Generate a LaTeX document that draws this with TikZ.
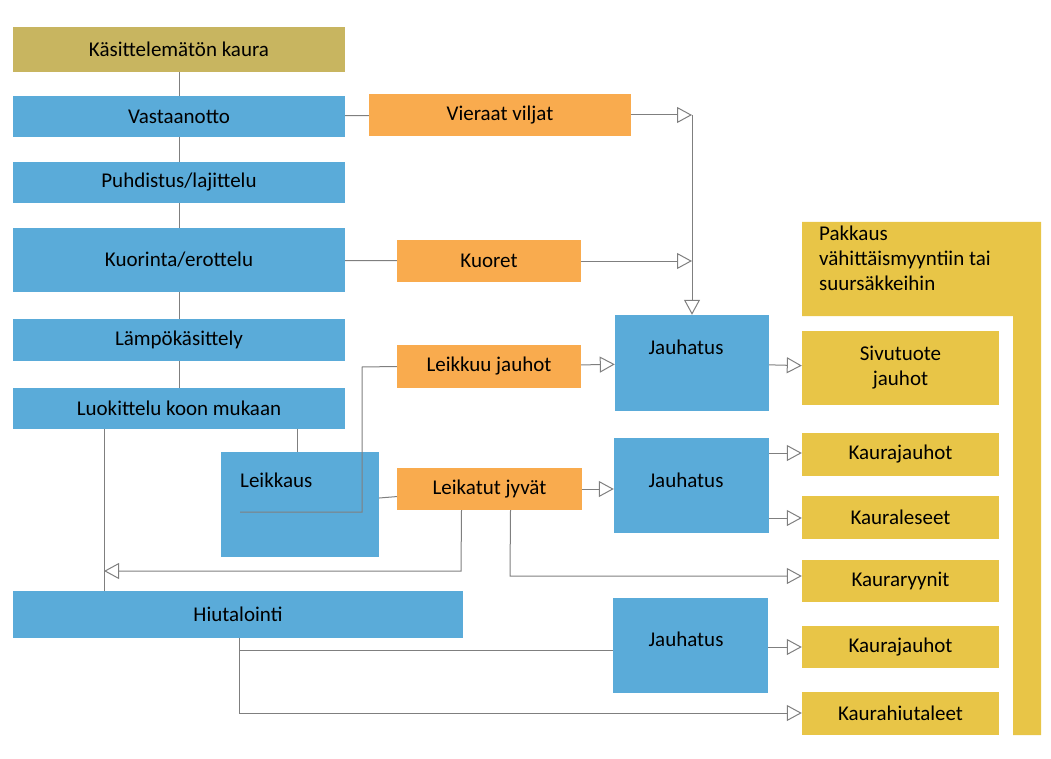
\documentclass[tikz,border=0pt]{standalone}
\usepackage{fontspec}
\setmainfont{Carlito}
\usetikzlibrary{arrows.meta,positioning}
\definecolor{olivebox}{HTML}{C8B560}
\definecolor{bluebox}{HTML}{5AABD9}
\definecolor{orangebox}{HTML}{F9AB4E}
\definecolor{yellowbox}{HTML}{E8C547}
\definecolor{linegray}{HTML}{7F7F7F}

\begin{document}
\begin{tikzpicture}[x=1pt, y=-1pt, >={Triangle[open,length=15pt,width=16pt]}]
  % --- Styles ---
    \tikzset{
      box/.style    = {inner sep=0pt, font=\fontsize{21}{25}\selectfont},
      raw/.style    = {box, fill=olivebox},
      stage/.style  = {box, fill=bluebox},
      waste/.style  = {box, fill=orangebox},
      prod/.style   = {box, fill=yellowbox, align=center},
      txt/.style    = {inner sep=0pt, font=\fontsize{21}{25}\selectfont},
      flow/.style   = {draw=linegray, line width=1pt},
      flowA/.style  = {flow, ->}
    }
    \useasboundingbox (0,0) rectangle (1051,759);

    % --- Main line (left column) ---
    \node[raw, minimum width=332pt, minimum height=45pt] (raw) at (179,49.5) {Käsittelemätön kaura};
    \node[stage, minimum width=332pt, minimum height=41pt] (recv) at (179,116.5) {Vastaanotto};
    \node[stage, minimum width=332pt, minimum height=41pt] (clean) at (179,182.5) {Puhdistus/lajittelu};
    \node[stage, minimum width=332pt, minimum height=64pt] (hull) at (179,260) {Kuorinta/erottelu};
    \node[stage, minimum width=332pt, minimum height=42pt] (heat) at (179,340) {Lämpökäsittely};
    \node[stage, minimum width=332pt, minimum height=41pt] (grade) at (179,408.5) {Luokittelu koon mukaan};
    \node[stage, minimum width=158pt, minimum height=105pt] (cut) at (300,504.5) {};
    \node[txt, anchor=west] (cutT) at (240,480) {Leikkaus};
    \node[stage, minimum width=450pt, minimum height=47pt] (flake) at (238,614.5) {Hiutalointi};

    % --- Side streams ---
    \node[waste, minimum width=262pt, minimum height=42pt] (foreign) at (500,115) {Vieraat viljat};
    \node[waste, minimum width=184pt, minimum height=42pt] (husk) at (489,261) {Kuoret};
    \node[waste, minimum width=184pt, minimum height=43pt] (cutfl) at (489,366.5) {Leikkuu jauhot};
    \node[waste, minimum width=185pt, minimum height=42pt] (cutgr) at (489.5,489) {Leikatut jyvät};

    % --- Milling ---
    \node[stage, minimum width=154pt, minimum height=96pt] (mill1) at (692,363) {};
    \node[txt] at (686,347) {Jauhatus};
    \node[stage, minimum width=155pt, minimum height=95pt] (mill2) at (691.5,485.5) {};
    \node[txt] at (686,480) {Jauhatus};
    \node[stage, minimum width=155pt, minimum height=95pt] (mill3) at (690.5,645.5) {};
    \node[txt] at (686,639) {Jauhatus};

    % --- Packaging ---
    \fill[yellowbox] (802,222) -- (1041,222) -- (1041,735) -- (1013,735) -- (1013,316) -- (802,316) -- cycle;
    \node[txt, anchor=north west, align=left] (pack) at (819,226) {Pakkaus\\vähittäismyyntiin tai\\suursäkkeihin};
    \node[prod, minimum width=197pt, minimum height=74pt] (side) at (900.5,368) {Sivutuote\\jauhot};
    \node[prod, minimum width=197pt, minimum height=43pt] (flour1) at (900.5,454.5) {\raisebox{-6pt}{Kaurajauhot}};
    \node[prod, minimum width=197pt, minimum height=43pt] (bran) at (900.5,517.5) {\raisebox{-6pt}{Kauraleseet}};
    \node[prod, minimum width=197pt, minimum height=42pt] (groats) at (900.5,581) {\raisebox{-6pt}{Kauraryynit}};
    \node[prod, minimum width=197pt, minimum height=42pt] (flour2) at (900.5,647) {Kaurajauhot};
    \node[prod, minimum width=197pt, minimum height=43pt] (flakes) at (900.5,713.5) {\raisebox{-8pt}{Kaurahiutaleet}};

    % --- Main line connectors ---
    \draw[flow] (raw) -- (recv);
    \draw[flow] (recv) -- (clean);
    \draw[flow] (clean) -- (hull);
    \draw[flow] (hull) -- (heat);
    \draw[flow] (heat) -- (grade);
    \draw[flow] (grade.south -| cut.north) ++(-3,0) -- ++(0,23);
    \draw[flow] (grade.south) ++(-75,0) coordinate (g1) -- (g1 |- flake.north);

    % --- Side stream connectors ---
    \coordinate (join) at (692,115);
    \draw[flow] (recv) -- (foreign);
    \draw[flowA] (foreign) -- (join);
    \draw[flow] (hull) -- (husk);
    \draw[flowA] (husk) -- (husk -| join);
    \draw[flowA] (join) -- (join |- mill1.north);
    \draw[flow] (cut) -- (cutgr);
    \draw[flow] (240,512) -- (362,512) -- (362,367) -- (cutfl.west);
    \draw[flowA] (cutfl) -- (mill1);
    \draw[flowA] (cutgr) -- (mill2.west |- cutgr);
    \draw[flowA] (cutgr.south) ++(-28,0) -- (461,571) -- (g1 |- 0,571);
    \draw[flowA] (cutgr.south) ++(21,0) -- (510,576) -- (groats.west |- 0,576);

    % --- Products ---
    \draw[flowA] (mill1) -- (side);
    \draw[flowA] (mill2.east |- 0,453) -- (flour1.west |- 0,453);
    \draw[flowA] (mill2.east |- 0,518) -- (bran.west |- 0,518);
    \draw[flow] (flake.south) ++(1,0) coordinate (f1) -- (f1 |- 0,650) -- (mill3.west |- 0,650);
    \draw[flowA] (mill3.east |- flour2) -- (flour2);
    \draw[flowA] (f1 |- 0,650) -- (f1 |- 0,713) -- (flakes.west |- 0,713);
\end{tikzpicture}
\end{document}
